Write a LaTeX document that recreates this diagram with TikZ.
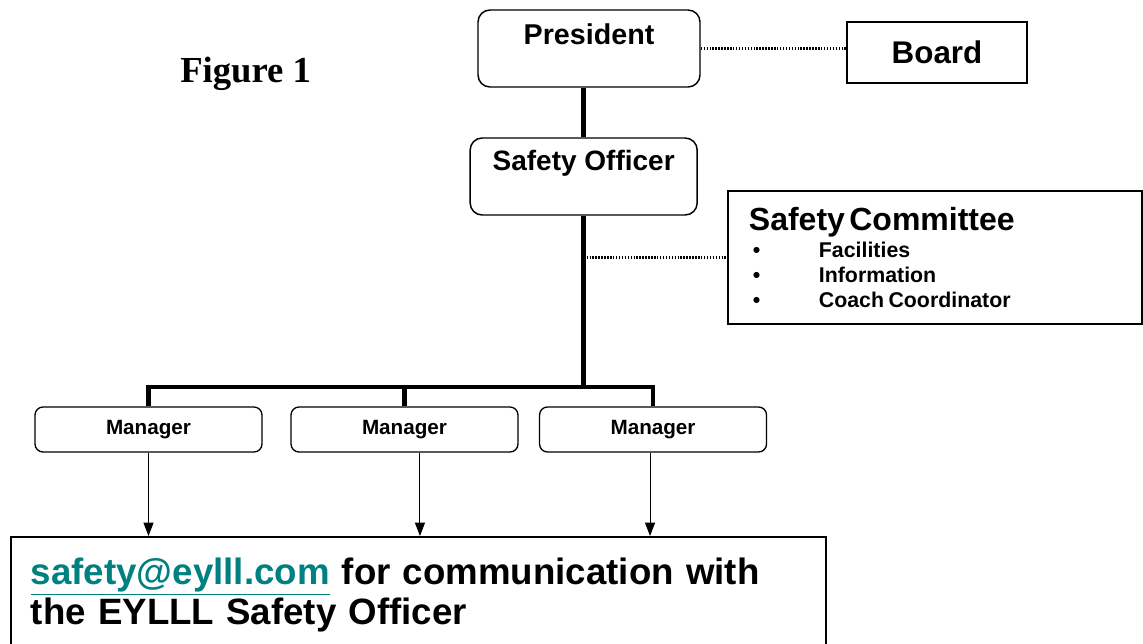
\documentclass[tikz,border=0pt]{standalone}
\usepackage{fontspec}
\setmainfont{Liberation Sans}
\newfontfamily\figfont{Liberation Serif}
\usepackage{xcolor}
\usetikzlibrary{positioning,arrows.meta}
\definecolor{linkteal}{RGB}{0,128,128}

\begin{document}
\begin{tikzpicture}
          [x=0.75pt,y=-0.75pt,
           roundbox/.style={draw=black,rounded corners=9pt,line width=1.1pt,inner sep=0pt,minimum width=166.5pt},
           sqbox/.style={draw=black,line width=1.4pt,inner sep=0pt},
           mgrbox/.style={draw=black,rounded corners=6pt,line width=1pt,inner sep=0pt,
                          minimum width=170.25pt,minimum height=33.75pt,font=\fontsize{15.5}{18}\selectfont\bfseries},
           link/.style={line width=3.6pt},
           dotlink/.style={line width=1.6pt,dash pattern=on 1.1pt off 1.1pt},
           on grid,
           >={Triangle[length=10pt,width=7.5pt]}
          ]
          \useasboundingbox (0,0) rectangle (1143,643);
          \node[anchor=base west,inner sep=0pt,font=\fontsize{27.5}{30}\selectfont\figfont\bfseries] (fig) at (180,82) {Figure 1};
          \node[roundbox,text height=25.5pt,text depth=32.25pt,font=\fontsize{21.5}{24}\selectfont\bfseries] (president) at (589,48.5) {President};
          \node[sqbox,minimum width=135pt,minimum height=45.75pt,font=\fontsize{23.5}{26}\selectfont\bfseries,below right=3pt and 261pt of president] (board) {Board};
          \node[roundbox,minimum width=170.25pt,text height=24pt,text depth=33.75pt,font=\fontsize{21}{24}\selectfont\bfseries,below=96pt of president,xshift=-4pt] (officer) {Safety Officer};
          \node[sqbox,anchor=north west,text width=279pt,align=left,inner xsep=15.75pt,inner ysep=12.5pt,font=\bfseries] (committee) at (727,190)
            {{\fontsize{24}{28}\selectfont Safety Committee\par}
             \vspace{1.75pt}
             {\fontsize{16}{18.5}\selectfont
             \hspace*{3pt}\makebox[49.5pt][l]{\textbullet}Facilities\par
             \hspace*{3pt}\makebox[49.5pt][l]{\textbullet}Information\par
             \hspace*{3pt}\makebox[49.5pt][l]{\textbullet}Coach Coordinator\par}};
          \node[mgrbox] (m1) at (148.5,429.5) {Manager};
          \node[mgrbox,right=192pt of m1] (m2) {Manager};
          \node[mgrbox,right=186.4pt of m2] (m3) {Manager};
          \node[sqbox,anchor=north west,line width=1.5pt,text width=581.25pt,align=left,inner xsep=15pt,inner ysep=15.75pt,
                font=\fontsize{27.5}{30}\selectfont\bfseries] (mail) at (10,536)
            {\textcolor{linkteal}{\underline{safety@eylll.com}} for communication with\\the EYLLL Safety Officer};
          \coordinate (bar) at (0,387);
          % dotted ties
          \draw[dotlink] (president.east) -- (president.east -| board.west);
          \draw[dotlink] (committee.west -| officer.south) -- (committee.west);
          % chain of command
          \draw[link] (officer.north |- president.south) -- (officer.north);
          \draw[link] (officer.south) -- (officer.south |- bar);
          \draw[link] (m1.north) |- (m3.north |- bar) -- (m3.north);
          \draw[link] (m2.north) -- (m2.north |- bar);
          % to the mail box
          \draw[->,line width=0.75pt] (m1.south) -- (m1.south |- mail.north);
          \draw[->,line width=0.75pt] ([xshift=11.6pt]m2.south) -- ([xshift=11.6pt]m2.south |- mail.north);
          \draw[->,line width=0.75pt] ([xshift=-2.25pt]m3.south) -- ([xshift=-2.25pt]m3.south |- mail.north);
        \end{tikzpicture}
\end{document}
